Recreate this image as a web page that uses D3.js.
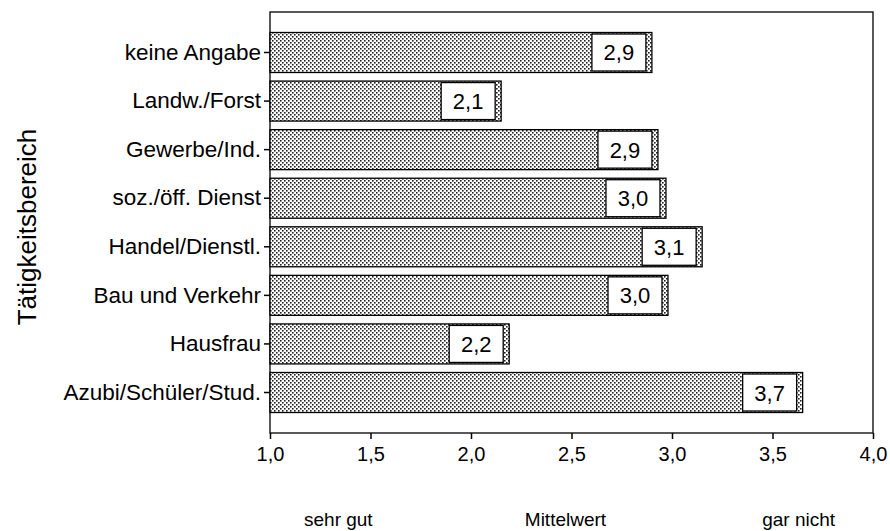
<!DOCTYPE html>
<html><head><meta charset="utf-8">
<script src="https://cdn.jsdelivr.net/npm/d3@7"></script>
<style>body{margin:0;background:#fff}svg{display:block}text{font-family:Arial,"Liberation Sans",sans-serif;fill:#000}</style>
</head><body><svg id="c" width="890" height="531"></svg>
<script>
const categories = ["keine Angabe","Landw./Forst","Gewerbe/Ind.","soz./öff. Dienst","Handel/Dienstl.","Bau und Verkehr","Hausfrau","Azubi/Schüler/Stud."];
const values = [2.90, 2.15, 2.93, 2.97, 3.15, 2.98, 2.19, 3.65];
const valueLabels = ["2,9","2,1","2,9","3,0","3,1","3,0","2,2","3,7"];
const xTicks = [1.0,1.5,2.0,2.5,3.0,3.5,4.0];
const scaleLabels = [{t:"sehr gut", v:1.34},{t:"Mittelwert", v:2.47},{t:"gar nicht", v:3.63}];
const yTitle = "Tätigkeitsbereich";

const svg = d3.select("#c");
const L=270, R=873, T=12, B=433;
const x = d3.scaleLinear().domain([1,4]).range([L,R]);
const y = d3.scaleBand().domain(categories).range([T,B]).paddingInner(0.1765).paddingOuter(0.422);

const defs = svg.append("defs");
const pat = defs.append("pattern").attr("id","dots").attr("width",4).attr("height",4).attr("patternUnits","userSpaceOnUse");
pat.append("rect").attr("width",4).attr("height",4).attr("fill","#fff");
pat.append("rect").attr("x",0).attr("y",0).attr("width",1.6).attr("height",1.6).attr("fill","#222");
pat.append("rect").attr("x",2).attr("y",2).attr("width",1.6).attr("height",1.6).attr("fill","#222");

// frame
svg.append("rect").attr("x",L).attr("y",T).attr("width",R-L).attr("height",B-T).attr("fill","none").attr("stroke","#000").attr("stroke-width",1.3);

// bars
const g = svg.append("g");
categories.forEach((c,i)=>{
  const bx = x(1), bw = x(values[i])-x(1), by=y(c), bh=y.bandwidth();
  g.append("rect").attr("x",bx).attr("y",by).attr("width",bw).attr("height",bh).attr("fill","url(#dots)").attr("stroke","#000").attr("stroke-width",1.3);
  const boxW=54, boxR=x(values[i])-6;
  g.append("rect").attr("x",boxR-boxW).attr("y",by+1.5).attr("width",boxW).attr("height",bh-3).attr("fill","#fff").attr("stroke","#000").attr("stroke-width",1.3);
  g.append("text").attr("x",boxR-boxW/2).attr("y",by+bh/2+8).attr("text-anchor","middle").style("font-size","22px").text(valueLabels[i]);
});

// y axis
const ya = svg.append("g").attr("transform",`translate(${L},0)`).call(d3.axisLeft(y).tickSize(6).tickPadding(3));
ya.select(".domain").remove();
ya.selectAll(".tick line").attr("stroke","#000").attr("stroke-width",1.5);
ya.selectAll(".tick text").style("font-size","22.5px").attr("font-family","Arial, 'Liberation Sans', sans-serif").attr("fill","#000");

// x axis
const xa = svg.append("g").attr("transform",`translate(0,${B})`).call(d3.axisBottom(x).tickValues(xTicks).tickSize(6).tickPadding(8).tickFormat(d=>d3.format(".1f")(d).replace(".",",")));
xa.select(".domain").remove();
xa.selectAll(".tick line").attr("stroke","#000").attr("stroke-width",1.5);
xa.selectAll(".tick text").style("font-size","20px").attr("font-family","Arial, 'Liberation Sans', sans-serif").attr("fill","#000");

// scale labels
svg.selectAll(".sl").data(scaleLabels).enter().append("text").attr("class","sl")
  .attr("x",d=>x(d.v)).attr("y",526).attr("text-anchor","middle").style("font-size","19px").text(d=>d.t);

// y title
svg.append("text").attr("transform","translate(36,227) rotate(-90)").attr("text-anchor","middle").style("font-size","26px").text(yTitle);
</script></body></html>
